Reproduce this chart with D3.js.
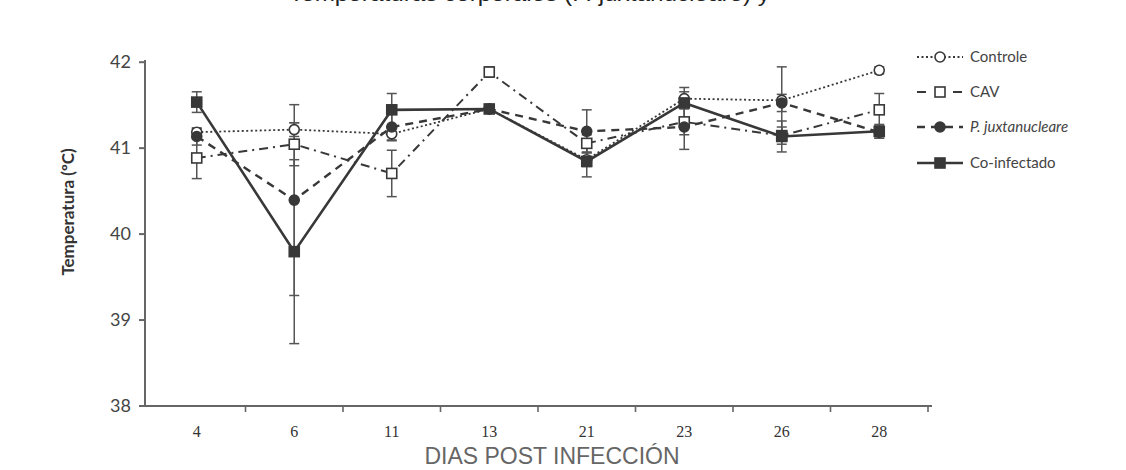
<!DOCTYPE html>
<html><head><meta charset="utf-8">
<script src="https://cdn.jsdelivr.net/npm/d3@7"></script>
<style>body{margin:0;background:#fff}svg{display:block}</style>
</head><body>
<script>
const days = ["4","6","11","13","21","23","26","28"];
const yTicks = [38,39,40,41,42];
const seriesNames = ["Controle","CAV","P. juxtanucleare","Co-infectado"];
const controle = [41.18, 41.21, 41.16, 41.45, 40.86, 41.57, 41.55, 41.90];
const cav      = [40.88, 41.04, 40.70, 41.88, 41.05, 41.30, 41.14, 41.44];
const pjux     = [41.13, 40.39, 41.24, 41.45, 41.19, 41.24, 41.52, 41.18];
const coinf    = [41.53, 39.79, 41.44, 41.45, 40.84, 41.52, 41.13, 41.19];
const errControle = [0.04, 0.08, 0.08, 0.05, 0.08, 0.08, 0.39, 0.04];
const errCav      = [0.24, 0.25, 0.27, 0.06, 0.10, 0.15, 0.10, 0.19];
const errPjux     = [0.10, 1.11, 0.15, 0.05, 0.25, 0.26, 0.10, 0.07];
const errCoinf    = [0.12, 1.07, 0.19, 0.05, 0.18, 0.18, 0.18, 0.08];

const W = 1126, H = 470;
const svg = d3.select("body").append("svg").attr("width", W).attr("height", H);
const ink = "#383838";

// clipped title (only lower part visible, as in the scanned reference)
svg.append("text").attr("x", 289).attr("y", 1)
  .attr("textLength", 481).attr("lengthAdjust", "spacingAndGlyphs")
  .style("font-family", "Liberation Sans, Arial, sans-serif").style("font-size", "22px")
  .attr("fill", "#222").text("Temperaturas corporales (P. juxtanucleare) y");

const x = d3.scaleBand().domain(days).range([148, 928]).paddingInner(0).paddingOuter(0);
const y = d3.scaleLinear().domain([38, 42]).range([405.5, 61.7]);
const cx = d => x(d) + x.bandwidth() / 2;

// Y axis
const ya = svg.append("g").attr("transform", "translate(145,0)")
  .call(d3.axisLeft(y).tickValues(yTicks).tickSize(6).tickPadding(8).tickFormat(d3.format("d")));
ya.select(".domain").attr("stroke", "#666").attr("stroke-width", 2).attr("d", "M0,60V407");
ya.selectAll(".tick line").attr("stroke", "#666").attr("stroke-width", 2);
ya.selectAll(".tick text").attr("fill", "#444")
  .style("font-family", "Lato, 'Open Sans', sans-serif").style("font-size", "18px");

// X axis
const xa = svg.append("g").attr("transform", "translate(0,406)")
  .call(d3.axisBottom(x).tickSize(0).tickPadding(20));
xa.select(".domain").attr("stroke", "#666").attr("stroke-width", 2).attr("d", "M144,0H932");
xa.selectAll(".tick text").attr("fill", "#333")
  .style("font-family", "'Liberation Serif', 'Times New Roman', serif").style("font-size", "16px");
// boundary ticks between categories
const bounds = days.slice(1).map(d => x(d)).concat([x(days[days.length-1]) + x.bandwidth()]);
xa.selectAll(".btick").data(bounds).join("line").attr("class", "btick")
  .attr("x1", d => d).attr("x2", d => d).attr("y1", 0).attr("y2", 6)
  .attr("stroke", "#666").attr("stroke-width", 1.6);

// axis titles
svg.append("text").attr("transform", "translate(68,212) rotate(-90)")
  .attr("text-anchor", "middle").attr("dy", "0.35em")
  .style("font-family", "Lato, 'Open Sans', sans-serif").style("font-size", "17px")
  .style("font-weight", "bold").attr("fill", "#333").text("Temperatura (ºC)");
svg.append("text").attr("x", 552).attr("y", 464).attr("text-anchor", "middle")
  .style("font-family", "'Liberation Sans', Arial, sans-serif").style("font-size", "23px")
  .attr("fill", "#666").text("DIAS POST INFECCIÓN");

const series = [
  {name: seriesNames[0], vals: controle, err: errControle, dash: "2,2.5", sw: 1.8, marker: "circle", fill: "#fff"},
  {name: seriesNames[1], vals: cav, err: errCav, dash: "9,5,2,5", sw: 2, marker: "square", fill: "#fff"},
  {name: seriesNames[2], vals: pjux, err: errPjux, dash: "8,6", sw: 2.4, marker: "circle", fill: ink},
  {name: seriesNames[3], vals: coinf, err: errCoinf, dash: null, sw: 2.6, marker: "square", fill: ink}
];

const line = d3.line().x((v, i) => cx(days[i])).y(v => y(v));

// error bars
series.forEach(s => {
  const g = svg.append("g");
  s.vals.forEach((v, i) => {
    const X = cx(days[i]);
    g.append("line").attr("x1", X).attr("x2", X).attr("y1", y(v + s.err[i])).attr("y2", y(v - s.err[i]))
      .attr("stroke", "#555").attr("stroke-width", 1.5);
    [v + s.err[i], v - s.err[i]].forEach(e => g.append("line")
      .attr("x1", X - 5).attr("x2", X + 5).attr("y1", y(e)).attr("y2", y(e))
      .attr("stroke", "#555").attr("stroke-width", 1.5));
  });
});

function drawMarker(g, s, X, Y) {
  if (s.marker === "circle") {
    g.append("circle").attr("cx", X).attr("cy", Y).attr("r", 5)
      .attr("fill", s.fill).attr("stroke", ink).attr("stroke-width", 1.6);
  } else {
    g.append("rect").attr("x", X - 5).attr("y", Y - 5).attr("width", 10).attr("height", 10)
      .attr("fill", s.fill).attr("stroke", ink).attr("stroke-width", 1.6);
  }
}

// lines and markers
series.forEach(s => {
  svg.append("path").datum(s.vals).attr("d", line).attr("fill", "none")
    .attr("stroke", ink).attr("stroke-width", s.sw)
    .attr("stroke-dasharray", s.dash);
});
series.forEach(s => {
  const g = svg.append("g");
  s.vals.forEach((v, i) => drawMarker(g, s, cx(days[i]), y(v)));
});

// legend
const legY = [57, 92, 127, 163];
series.forEach((s, i) => {
  const g = svg.append("g");
  g.append("line").attr("x1", 917).attr("x2", 963).attr("y1", legY[i]).attr("y2", legY[i])
    .attr("stroke", ink).attr("stroke-width", s.sw).attr("stroke-dasharray", s.dash ? (i === 1 ? "9,9" : s.dash) : null);
  drawMarker(g, s, 940, legY[i]);
  g.append("text").attr("x", 970).attr("y", legY[i]).attr("dy", "0.35em")
    .style("font-family", "Lato, 'Open Sans', sans-serif").style("font-size", "15px")
    .style("font-style", i === 2 ? "italic" : "normal")
    .attr("fill", "#444").text(s.name);
});
</script>
</body></html>
